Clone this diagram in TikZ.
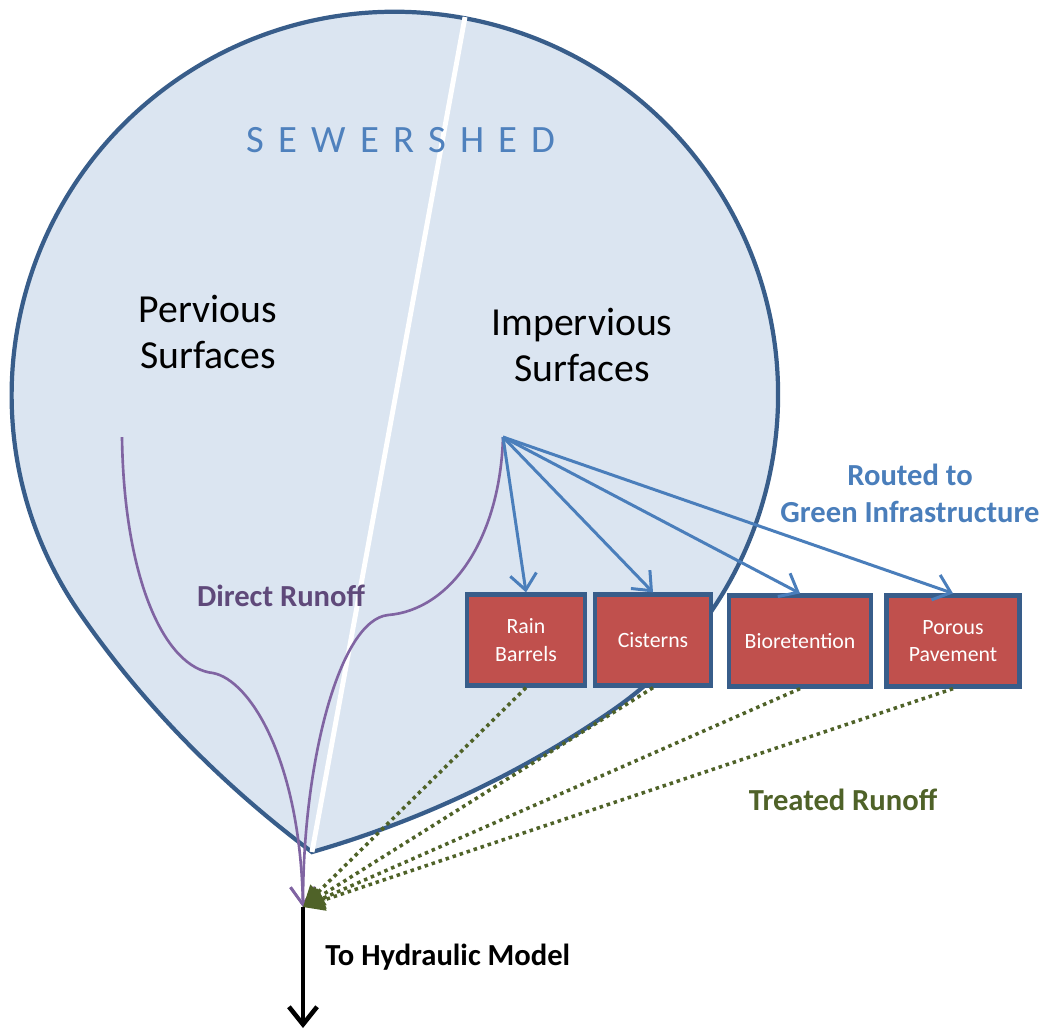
\documentclass[tikz,border=0pt]{standalone}
\usepackage{fontspec}
\setmainfont{Carlito}
\usetikzlibrary{arrows.meta}
\definecolor{shedfill}{HTML}{DBE5F1}
\definecolor{shedline}{HTML}{385D8A}
\definecolor{gired}{HTML}{C0504D}
\definecolor{routeblue}{HTML}{4A7EBB}
\definecolor{shedtext}{HTML}{4F81BD}
\definecolor{runpurple}{HTML}{8064A2}
\definecolor{runtext}{HTML}{5F497A}
\definecolor{treatgreen}{HTML}{4F6228}
\begin{document}
\begin{tikzpicture}[x=0.01cm,y=-0.01cm,
  gibox/.style={draw=shedline,line width=1.2pt,fill=gired,text=white,align=center,font=\fontsize{6.2}{7.8}\selectfont,inner sep=0pt,minimum height=0.91cm},
  route/.style={routeblue,line width=0.85pt,-{Straight Barb[length=4.5pt,width=7.5pt]}},
  runoff/.style={runpurple,line width=0.75pt,-{Straight Barb[length=5pt,width=7pt]}},
  treated/.style={treatgreen,line width=1pt,dash pattern=on 1pt off 1.1pt,-{Triangle[length=6pt,width=6pt]}},
  lbl/.style={font=\fontsize{8.7}{10.5}\selectfont\bfseries,align=center}]
  \useasboundingbox (0,0) rectangle (1046,1032);
  \coordinate (tip) at (312,852);
  \coordinate (crest) at (465,17);
  \coordinate (src) at (503,437);
  \coordinate (pervsrc) at (122,437);
  \coordinate (outlet) at (303,907);
  \coordinate (model) at (303,1028);
  \draw[shedline,line width=1.2pt,fill=shedfill] (tip) .. controls (423,820) and (523,772) .. (613,710)
    arc[start angle=-55.3,end angle=214.7,radius=3.83cm] .. controls (142,703) and (220,783) .. (tip) -- cycle;
  \draw[white,line width=1.4pt] (tip) -- (crest);
  \node[font=\fontsize{11}{13}\selectfont,text=shedtext] (shed) at (401,140)
    {S\hspace{4pt}E\hspace{4pt}W\hspace{4pt}E\hspace{4pt}R\hspace{4pt}S\hspace{4pt}H\hspace{4pt}E\hspace{4pt}D};
  \node[align=center,font=\fontsize{11.3}{13.2}\selectfont] (perv) at (208,332) {Pervious\\Surfaces};
  \node[align=center,font=\fontsize{11.3}{13.2}\selectfont] (imperv) at (582,345) {Impervious\\Surfaces};
  \draw[runoff] (pervsrc) .. controls (124,580) and (165,668) .. (213,673) .. controls (250,680) and (300,760) .. (outlet);
  \draw[runoff] (src) .. controls (500,540) and (450,610) .. (388,615) .. controls (340,620) and (303,760) .. (outlet);
  \node[gibox,minimum width=1.18cm] (rain) at (526,640) {Rain\\Barrels};
  \node[gibox,minimum width=1.16cm] (cistern) at (653,640) {Cisterns};
  \node[gibox,minimum width=1.42cm] (bioret) at (800,641) {Bioretention};
  \node[gibox,minimum width=1.33cm] (porous) at (953,641) {Porous\\Pavement};
  \foreach \gi in {rain,cistern,bioret,porous}
    \draw[route] (src) -- (\gi.north);
  \foreach \gi in {rain,cistern,bioret,porous}
    \draw[treated] (\gi.south) -- (outlet);
  \draw[line width=1.3pt,-{Straight Barb[length=5pt,width=8pt]}] (outlet) -- (model);
  \node[lbl,text=runtext] (direct) at (281,596) {Direct Runoff};
  \node[lbl,text=routeblue] (routed) at (910,493) {Routed to\\Green Infrastructure};
  \node[lbl,text=treatgreen] (treat) at (843,800) {Treated Runoff};
  \node[lbl,anchor=west] (hydraulic) at (313,957) {To Hydraulic Model};
\end{tikzpicture}
\end{document}
